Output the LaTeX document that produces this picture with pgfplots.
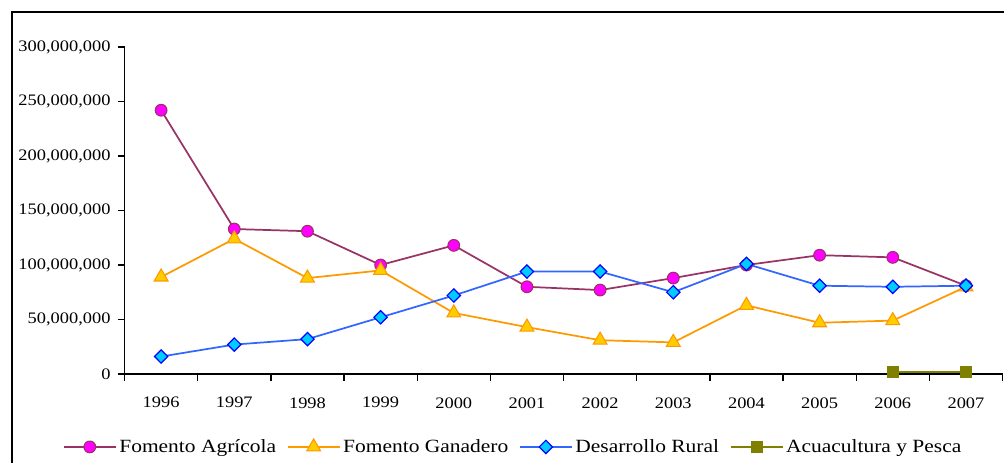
\documentclass[border=0pt]{standalone}
\usepackage{pgfplots}
\pgfplotsset{compat=1.18}
\usepackage{fontspec}
\setmainfont{Liberation Serif}[FakeStretch=1.15]
\definecolor{agline}{HTML}{993366}
\definecolor{agfill}{HTML}{FF00FF}
\definecolor{galine}{HTML}{FF9900}
\definecolor{gafill}{HTML}{FFCC00}
\definecolor{drline}{HTML}{3366FF}
\definecolor{drfill}{HTML}{00CCFF}
\definecolor{drdraw}{HTML}{0000FF}
\definecolor{acline}{HTML}{808000}
\begin{document}
\begin{tikzpicture}
\useasboundingbox (0,0) rectangle (753pt,347.25pt);
\draw[line width=1.5pt] (9pt,-20pt) -- (9pt,338.25pt) -- (780pt,338.25pt);
\begin{axis}[
  at={(93.4pt,66.75pt)}, anchor=south west,
  scale only axis, width=658.5pt, height=245.25pt,
  xmin=-0.5, xmax=11.5, ymin=0, ymax=300000000,
  axis x line*=bottom, axis y line*=left,
  axis line style={line width=1pt,-},
  xtick={0,...,11},
  xticklabels={1996,1997,1998,1999,2000,2001,2002,2003,2004,2005,2006,2007},
  major x tick style={draw=none},
  minor xtick={-0.5,0.5,...,11.5},
  minor tick length=5pt,
  minor x tick style={line width=1pt,black},
  ytick={0,50000000,...,300000000},
  major tick length=5pt,
  tick align=outside,
  tick style={line width=1pt,black},
  scaled y ticks=false,
  yticklabel style={xshift=-2pt,/pgf/number format/.cd,fixed,1000 sep={,},assume math mode=true},
  ticklabel style={font=\fontsize{12}{14}\selectfont},
  xticklabel style={yshift=-9pt},
  legend style={at={(0.443,-0.223)}, anchor=center, draw=none, fill=none,
    legend columns=4, font=\fontsize{14}{16}\selectfont,
    /tikz/every even column/.append style={column sep=6pt}},
  legend image code/.code={\draw[mark repeat=2,mark phase=2] plot coordinates {(0pt,0pt) (19.5pt,0pt) (39pt,0pt)};},
  clip=false,
]
\addplot[color=agline, line width=1.3pt, mark=*, mark size=4.4pt,
  mark options={fill=agfill, draw=agline, line width=0.8pt}]
  coordinates {(0,242000000) (1,133000000) (2,131000000) (3,100000000) (4,118000000) (5,80000000) (6,77000000) (7,88000000) (8,100000000) (9,109000000) (10,107000000) (11,81000000)};
\addlegendentry{Fomento Agrícola}
\addplot[color=galine, line width=1.3pt, mark=triangle*, mark size=6pt,
  mark options={fill=gafill, draw=galine, line width=0.8pt}]
  coordinates {(0,89000000) (1,124000000) (2,88000000) (3,95000000) (4,56000000) (5,43000000) (6,31000000) (7,29000000) (8,63000000) (9,47000000) (10,49000000) (11,80000000)};
\addlegendentry{Fomento Ganadero}
\addplot[color=drline, line width=1.3pt, mark=diamond*, mark size=5pt,
  mark options={fill=drfill, draw=drdraw, line width=0.9pt, xscale=1.33}]
  coordinates {(0,16000000) (1,27000000) (2,32000000) (3,52000000) (4,72000000) (5,94000000) (6,94000000) (7,75000000) (8,101000000) (9,81000000) (10,80000000) (11,81000000)};
\addlegendentry{Desarrollo Rural}
\addplot[color=acline, line width=1.3pt, mark=square*, mark size=3.8pt,
  mark options={fill=acline, draw=acline}]
  coordinates {(10,1500000) (11,1500000)};
\addlegendentry{Acuacultura y Pesca}
\end{axis}
\end{tikzpicture}
\end{document}
